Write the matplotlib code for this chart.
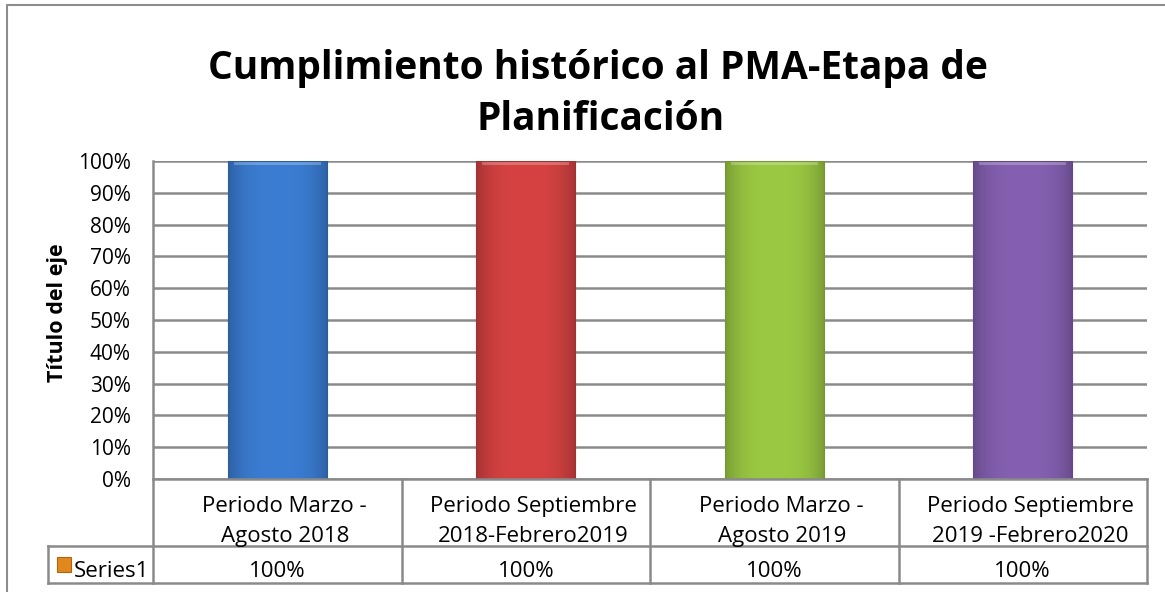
import matplotlib
matplotlib.use("Agg")
import numpy as np
import matplotlib.pyplot as plt
import matplotlib.transforms as mtrans
import matplotlib.colors as mcolors
from matplotlib.patches import Rectangle
from matplotlib.lines import Line2D

categories = ["Periodo Marzo -\nAgosto 2018",
              "Periodo Septiembre\n2018-Febrero2019",
              "Periodo Marzo -\nAgosto 2019",
              "Periodo Septiembre\n2019 -Febrero2020"]
values = [1.0, 1.0, 1.0, 1.0]
value_labels = ["100%", "100%", "100%", "100%"]
series_name = "Series1"
yticks = [0, 0.1, 0.2, 0.3, 0.4, 0.5, 0.6, 0.7, 0.8, 0.9, 1.0]
ytick_labels = ["0%", "10%", "20%", "30%", "40%", "50%", "60%", "70%", "80%", "90%", "100%"]
title_lines = ["Cumplimiento histórico al PMA-Etapa de", "Planificación"]
ylabel = "Título del eje"

bar_colors = ["#3B7DD3", "#D64242", "#9BC943", "#8560B2"]

W, H = 1165, 592
fig = plt.figure(figsize=(W / 100, H / 100), dpi=100)
plt.rcParams['font.family'] = ['Open Sans', 'DejaVu Sans']

px = lambda x: x / W
py = lambda y: 1 - y / H

ax = fig.add_axes([px(153), py(479), px(1147) - px(153), py(161) - py(479)])
x = list(range(len(categories)))
bars = ax.bar(x, values, width=0.4, color=bar_colors, linewidth=0, zorder=3)
ax.set_xlim(-0.5, len(categories) - 0.5)
ax.set_ylim(0, 1.0)

# bevel-like shading on each bar
for b, c in zip(bars, bar_colors):
    rgb = np.array(mcolors.to_rgb(c))
    t = np.linspace(-1, 1, 64)
    shade = 1.0 - 0.22 * np.abs(t) ** 3
    img = np.clip(rgb[None, None, :] * shade[None, :, None], 0, 1)
    img = np.repeat(img, 2, axis=0)
    im = ax.imshow(img, extent=[b.get_x(), b.get_x() + b.get_width(), 0, b.get_height()],
                   aspect='auto', zorder=4, interpolation='bilinear')
    im.set_clip_path(b)
    top = Rectangle((b.get_x() + b.get_width() * 0.06, b.get_height() - 0.012),
                    b.get_width() * 0.88, 0.012, facecolor='white', alpha=0.25,
                    linewidth=0, zorder=5)
    ax.add_patch(top)
    edge = Rectangle((b.get_x(), 0), b.get_width(), b.get_height(), facecolor='none',
                     edgecolor=tuple(rgb * 0.75), linewidth=0.8, zorder=5)
    ax.add_patch(edge)
ax.set_xlim(-0.5, len(categories) - 0.5)
ax.set_ylim(0, 1.0)

ax.set_yticks(yticks)
ax.set_yticklabels(ytick_labels, fontsize=15)
ax.tick_params(axis='y', length=0, pad=16)
ax.set_xticks([])
ax.grid(axis='y', color='#8A8A8A', linewidth=1.8, zorder=0)
for s in ['top', 'right', 'bottom']:
    ax.spines[s].set_visible(False)
ax.spines['left'].set_color('#8A8A8A')
ax.spines['left'].set_linewidth(1.8)
fig.text(px(58), py(313), ylabel, rotation=90, ha='center', va='center',
         fontsize=15.5, fontweight='bold')

# Data table under axis
tr = mtrans.blended_transform_factory(ax.transData, fig.transFigure)
figtr = fig.transFigure
lc = '#8A8A8A'
lw = 1.8
y0, y1, y2 = py(479), py(546), py(583)
xl = px(48)
fig.add_artist(Line2D([px(153), px(1147)], [y0, y0], color=lc, lw=lw, transform=figtr))
fig.add_artist(Line2D([xl, px(1147)], [y1, y1], color=lc, lw=lw, transform=figtr))
fig.add_artist(Line2D([xl, px(1147)], [y2, y2], color=lc, lw=lw, transform=figtr))
fig.add_artist(Line2D([xl, xl], [y1, y2], color=lc, lw=lw, transform=figtr))
for bnd in [i - 0.5 for i in range(len(categories) + 1)]:
    fig.add_artist(Line2D([bnd, bnd], [y0, y2], color=lc, lw=lw, transform=tr))
for i, (c, v) in enumerate(zip(categories, value_labels)):
    for j, line in enumerate(c.split("\n")):
        fig.text(i + 0.03, py(512 + 30 * j), line, transform=tr, ha='center', va='baseline', fontsize=16)
    fig.text(i, py(577), v, transform=tr, ha='center', va='baseline', fontsize=16)
fig.add_artist(Rectangle((px(57), py(572)), px(14), py(557) - py(572), transform=figtr,
                         facecolor='#E0881E', edgecolor='#B0640E', lw=0.8))
fig.text(px(74), py(577), series_name, ha='left', va='baseline', fontsize=16)

# Title
fig.text(px(598), py(79), title_lines[0], ha='center', va='baseline', fontsize=28, fontweight='bold')
fig.text(px(601), py(130), title_lines[1], ha='center', va='baseline', fontsize=28, fontweight='bold')

# Outer frame
fig.add_artist(Line2D([px(7), px(7), px(1165)], [py(592), py(5), py(5)], color='#8C8C8C', lw=1.5, transform=figtr))

fig.savefig("out.png", dpi=100)
